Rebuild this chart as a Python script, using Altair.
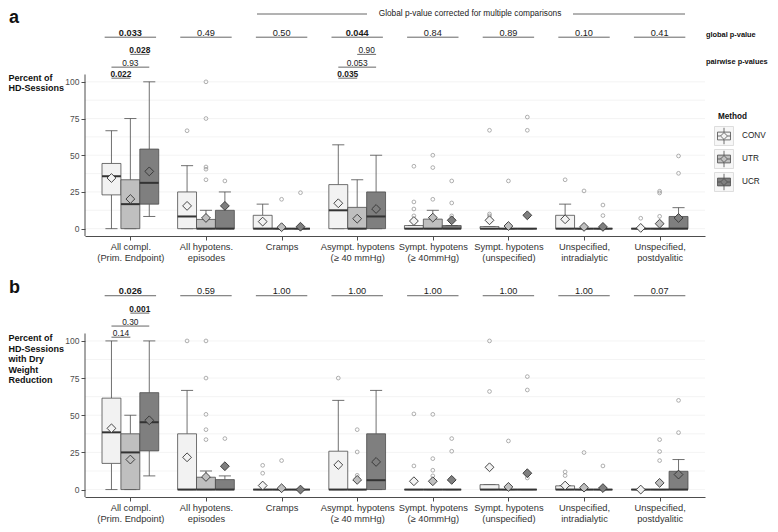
import json
import altair as alt
import pandas as pd

FONT = "Liberation Sans"
DARK = "#4d4d4d"

categories = [
    ["All compl.", "(Prim. Endpoint)"],
    ["All hypotens.", "episodes"],
    ["Cramps"],
    ["Asympt. hypotens", "(≥ 40 mmHg)"],
    ["Sympt. hypotens", "(≥ 40mmHg)"],
    ["Sympt. hypotens", "(unspecified)"],
    ["Unspecified,", "intradialytic"],
    ["Unspecified,", "postdyalitic"],
]
methods = ["CONV", "UTR", "UCR"]
method_colors = ["#f2f2f2", "#bfbfbf", "#7f7f7f"]

a_conv = dict(
    lo=[0, 0, 0, 0, 0, 0, 0, 0],
    q1=[23.0, 0, 0, 0, 0, 0, 0, 0],
    med=[35.7, 8.3, 0, 12.5, 0, 0, 0, 0],
    q3=[44.4, 25.0, 9.1, 30.0, 2.1, 1.4, 9.1, 0],
    hi=[66.7, 42.9, 16.7, 57.1, 2.1, 1.4, 16.7, 0],
    mean=[34.5, 15.5, 4.8, 17.3, 5.2, 5.7, 6.4, 0.5],
)
a_conv_out = [[], [66.7], [], [], [8.7, 13.4, 18.2, 42.5], [8.7, 10.0, 67.0], [33.3], [7.1]]
a_utr = dict(
    lo=[0, 0, 0, 0, 0, 0, 0, 0],
    q1=[0, 0, 0, 0, 0, 0, 0, 0],
    med=[16.7, 0, 0, 0, 0, 0, 0, 0],
    q3=[33.3, 6.3, 0, 14.5, 6.5, 0, 0, 0],
    hi=[75.0, 12.5, 0, 33.3, 12.5, 0, 0, 0],
    mean=[20.2, 7.3, 1.0, 6.8, 7.5, 1.8, 1.2, 3.4],
)
a_utr_out = [[], [33.3, 40.5, 42.0, 75.0, 100.0], [20.0], [], [20.0, 41.6, 50.0], [32.5], [25.7], [8.4, 24.3, 25.5]]
a_ucr = dict(
    lo=[8.3, 0, 0, 0, 0, 0, 0, 0],
    q1=[16.7, 0, 0, 0, 0, 0, 0, 0],
    med=[31.2, 0, 0, 8.3, 0, 0, 0, 0],
    q3=[54.2, 12.5, 0, 25.0, 2.1, 0, 0, 8.3],
    hi=[100.0, 25.0, 0, 50.0, 2.1, 0, 0, 14.3],
    mean=[39.0, 15.5, 1.3, 13.4, 5.7, 9.1, 1.2, 7.3],
)
a_ucr_out = [[], [32.5], [24.5], [], [8.7, 17.5, 32.5], [67.0, 76.0], [8.9, 16.1], [37.7, 49.5]]
a_global = ["0.033", "0.49", "0.50", "0.044", "0.84", "0.89", "0.10", "0.41"]
a_pair_cat = [0, 0, 0, 3, 3, 3]
a_pair_pair = ["CONV-UTR", "CONV-UCR", "UTR-UCR", "CONV-UTR", "CONV-UCR", "UTR-UCR"]
a_pair_p = ["0.022", "0.93", "0.028", "0.035", "0.053", "0.90"]

b_conv = dict(
    lo=[0, 0, 0, 0, 0, 0, 0, 0],
    q1=[17.6, 0, 0, 0, 0, 0, 0, 0],
    med=[38.5, 0, 0, 0, 0, 0, 0, 0],
    q3=[61.5, 37.5, 0, 25.8, 0, 3.3, 2.5, 0],
    hi=[100.0, 66.7, 0, 60.0, 0, 3.3, 2.5, 0],
    mean=[41.2, 21.7, 2.7, 16.6, 5.6, 15.0, 2.7, 0],
)
b_conv_out = [[], [100.0], [11.0, 16.3], [75.0], [15.9, 50.9], [66.0, 100.0], [9.4, 11.9], []]
b_utr = dict(
    lo=[0, 0, 0, 0, 0, 0, 0, 0],
    q1=[0, 0, 0, 0, 0, 0, 0, 0],
    med=[25.0, 0, 0, 0, 0, 0, 0, 0],
    q3=[37.5, 8.3, 0, 0, 0, 0, 0, 0],
    hi=[50.0, 12.5, 0, 0, 0, 0, 0, 0],
    mean=[20.2, 8.5, 0.9, 6.5, 5.6, 1.8, 1.3, 4.5],
)
b_utr_out = [[], [33.6, 40.3, 50.6, 75.0, 100.0], [19.5], [9.6, 25.3, 40.3], [9.2, 13.0, 20.8, 50.6], [32.7], [24.9], [19.5, 25.6, 33.6]]
b_ucr = dict(
    lo=[9.2, 0, 0, 0, 0, 0, 0, 0],
    q1=[26.0, 0, 0, 0, 0, 0, 0, 0],
    med=[45.3, 0, 0, 6.3, 0, 0, 0, 0],
    q3=[65.2, 6.7, 0, 37.5, 0, 0, 0, 12.3],
    hi=[100.0, 9.2, 0, 66.7, 0, 0, 0, 20.2],
    mean=[46.6, 15.7, 0, 18.6, 6.5, 11.0, 1.0, 10.1],
)
b_ucr_out = [[], [34.3], [], [], [25.8, 34.3], [7.8, 67.0, 76.0], [15.9], [38.3, 60.0]]
b_global = ["0.026", "0.59", "1.00", "1.00", "1.00", "1.00", "1.00", "0.07"]
b_pair_cat = [0, 0, 0]
b_pair_pair = ["CONV-UTR", "CONV-UCR", "UTR-UCR"]
b_pair_p = ["0.14", "0.30", "0.001"]

grid_values = [0, 12.5, 25, 37.5, 50, 62.5, 75, 87.5, 100]
OFF = {"CONV": -0.25, "UTR": 0.0, "UCR": 0.25}
HALF = 0.125
CAP = 0.08
GLOBAL_LEVEL = 130.4
PAIR_LEVEL = {"CONV-UTR": 102.5, "CONV-UCR": 110.0, "UTR-UCR": 118.7}

X = alt.Scale(domain=[-0.6, 7.6], nice=False, zero=False)
COLOR = alt.Scale(domain=methods, range=method_colors)
KEY_PATH = ("M-0.75,-0.45L0.75,-0.45L0.75,0.45L-0.75,0.45Z "
            "M0,-0.4L0.4,0L0,0.4L-0.4,0Z M0,-0.95L0,-0.45 M0,0.45L0,0.95 "
            "M-0.75,0L-0.4,0 M0.4,0L0.75,0")


def box_frames(stats, outs):
    rows, orows = [], []
    for m in methods:
        s = stats[m]
        for i in range(len(categories)):
            xc = i + OFF[m]
            rows.append(dict(method=m, xc=xc, xl=xc - HALF, xr=xc + HALF,
                             cl=xc - CAP, cr=xc + CAP, lo=s["lo"][i], q1=s["q1"][i],
                             med=s["med"][i], q3=s["q3"][i], hi=s["hi"][i], mean=s["mean"][i]))
            for v in outs[m][i]:
                orows.append(dict(method=m, xc=xc, v=v))
    return pd.DataFrame(rows), pd.DataFrame(orows)


def pval_frames(glob, pcat, ppair, pp):
    rows = []
    for i, p in enumerate(glob):
        rows.append(dict(x1=i - 0.34, x2=i + 0.34, xm=i, level=GLOBAL_LEVEL, p=p,
                         bold=float(p) < 0.05, size=9.2))
    for c, pr, p in zip(pcat, ppair, pp):
        a, b = pr.split("-")
        x1, x2 = c + OFF[a], c + OFF[b]
        rows.append(dict(x1=x1, x2=x2, xm=(x1 + x2) / 2, level=PAIR_LEVEL[pr], p=p,
                         bold=float(p) < 0.05, size=8.4))
    return pd.DataFrame(rows)


def panel(stats, outs, glob, pcat, ppair, pp, ytop, height, ytitle, title_y,
          letter, letter_y, extras):
    Y = alt.Scale(domain=[-5, ytop], nice=False, zero=False)
    df, odf = box_frames(stats, outs)
    pdf = pval_frames(glob, pcat, ppair, pp)
    xaxis = alt.Axis(values=list(range(len(categories))),
                     labelExpr=json.dumps(categories, ensure_ascii=False) + "[datum.value]",
                     title=None, labelFont=FONT, labelFontSize=9.3, labelLineHeight=11.3,
                     labelColor="#333333", labelPadding=2, tickSize=4, tickColor=DARK,
                     domainColor=DARK, domainWidth=1, grid=False, labelFlush=False,
                     labelOverlap=False)
    yaxis = alt.Axis(values=[0, 25, 50, 75, 100], title=ytitle, titleAngle=0,
                     titleAlign="left", titleBaseline="top", titleX=-77, titleY=title_y,
                     titleFont=FONT, titleFontSize=9, titleFontWeight="bold",
                     titleColor="#111111", titleLineHeight=10.5, labelFont=FONT,
                     labelFontSize=8.5, labelColor="#4d4d4d", labelPadding=2, tickSize=4,
                     tickColor=DARK, domain=False, grid=False)
    xs = lambda f: alt.X(f, type="quantitative", scale=X, axis=xaxis)
    ys = lambda f: alt.Y(f, type="quantitative", scale=Y, axis=yaxis)
    fill = alt.Fill("method:N", scale=COLOR, legend=None)

    grid = alt.Chart(pd.DataFrame({"g": grid_values})).mark_rule(
        color="#efefef", strokeWidth=0.7).encode(
        x=alt.X(datum=-0.6, scale=X, axis=xaxis), x2=alt.datum(7.6), y=ys("g"))
    yline = alt.Chart(pd.DataFrame({"a": [-5], "b": [105]})).mark_rule(
        color=DARK, strokeWidth=1).encode(
        x=alt.X(datum=-0.6, scale=X, axis=xaxis), y=ys("a"), y2="b:Q")
    base = alt.Chart(df)
    w_lo = base.mark_rule(color=DARK, strokeWidth=0.8).encode(x=xs("xc"), y=ys("lo"), y2="q1:Q")
    w_hi = base.mark_rule(color=DARK, strokeWidth=0.8).encode(x=xs("xc"), y=ys("q3"), y2="hi:Q")
    c_lo = base.mark_rule(color=DARK, strokeWidth=0.8).encode(x=xs("cl"), x2="cr:Q", y=ys("lo"))
    c_hi = base.mark_rule(color=DARK, strokeWidth=0.8).encode(x=xs("cl"), x2="cr:Q", y=ys("hi"))
    boxes = base.mark_bar(stroke=DARK, strokeWidth=0.8, opacity=1).encode(
        x=xs("xl"), x2="xr:Q", y=ys("q1"), y2="q3:Q", fill=fill)
    med = base.mark_rule(color="#333333", strokeWidth=2).encode(x=xs("xl"), x2="xr:Q", y=ys("med"))
    outl = alt.Chart(odf).mark_point(shape="circle", size=14, filled=False, color="#9a9a9a",
                                     strokeWidth=0.8, opacity=1).encode(x=xs("xc"), y=ys("v"))
    mean = base.mark_point(shape="diamond", size=78, filled=True, stroke="#333333",
                           strokeWidth=0.9, opacity=1).encode(
        x=xs("xc"), y=ys("mean"), fill=fill)
    pbase = alt.Chart(pdf)
    uline = pbase.mark_rule(color="#555555", strokeWidth=0.9).encode(
        x=xs("x1"), x2="x2:Q", y=ys("level"))
    layers = [grid, yline, w_lo, w_hi, c_lo, c_hi, boxes, med, outl, mean, uline]
    for bold in (False, True):
        for sz in (9.2, 8.4):
            sub = pdf[(pdf["bold"] == bold) & (pdf["size"] == sz)]
            if len(sub):
                layers.append(alt.Chart(sub).mark_text(
                    font=FONT, fontSize=sz, fontWeight="bold" if bold else "normal",
                    baseline="alphabetic", dy=-1.5, color="#1a1a1a").encode(
                    x=xs("xm"), y=ys("level"), text="p:N"))
    layers.append(alt.Chart(pd.DataFrame({"t": [letter]})).mark_text(
        font=FONT, fontSize=18, fontWeight="bold", align="left", baseline="alphabetic",
        color="#111111").encode(x=alt.value(-76), y=alt.value(letter_y), text="t:N"))
    layers += extras
    return alt.layer(*layers).properties(width=620, height=height)


def txt(t, x, y, size, weight="normal", align="left", baseline="middle", color="#111111"):
    return alt.Chart(pd.DataFrame({"t": [t]})).mark_text(
        font=FONT, fontSize=size, fontWeight=weight, align=align, baseline=baseline,
        color=color).encode(x=alt.value(x), y=alt.value(y), text="t:N")


extras_a = [
    txt("Global p-value corrected for multiple comparisons", 385, 4.5, 8.3,
        align="center", color="#222222"),
    alt.Chart(pd.DataFrame({"t": ["l"]})).mark_rule(color="#555555", strokeWidth=0.9).encode(
        x=alt.value(172), x2=alt.value(282), y=alt.value(5)),
    alt.Chart(pd.DataFrame({"t": ["r"]})).mark_rule(color="#555555", strokeWidth=0.9).encode(
        x=alt.value(488), x2=alt.value(600), y=alt.value(5)),
    txt("global p-value", 621, 26, 7.4, weight="bold"),
    txt("pairwise p-values", 621, 53, 7.4, weight="bold"),
    txt("Method", 633, 108, 8.2, weight="bold"),
]
# legend keys (one per method)
key_y = [127, 150, 173]
for m, ky in zip(methods, key_y):
    kd = pd.DataFrame({"method": [m]})
    extras_a.append(alt.Chart(kd).mark_point(
        shape="square", size=360, filled=True, color="#f7f7f7", stroke="#d6d6d6",
        strokeWidth=0.8, opacity=1).encode(x=alt.value(639), y=alt.value(ky)))
    extras_a.append(alt.Chart(kd).mark_point(
        shape=KEY_PATH, size=300, filled=True, stroke=DARK, strokeWidth=0.8,
        opacity=1).encode(x=alt.value(639), y=alt.value(ky),
                          fill=alt.Fill("method:N", scale=COLOR, legend=None)))
    extras_a.append(txt(m, 657, ky, 8.2, color="#222222"))

top = panel({"CONV": a_conv, "UTR": a_utr, "UCR": a_ucr},
            {"CONV": a_conv_out, "UTR": a_utr_out, "UCR": a_ucr_out},
            a_global, a_pair_cat, a_pair_pair, a_pair_p,
            ytop=149.6, height=227, ytitle=["Percent of", "HD-Sessions"], title_y=64,
            letter="a", letter_y=14, extras=extras_a)
bottom = panel({"CONV": b_conv, "UTR": b_utr, "UCR": b_ucr},
               {"CONV": b_conv_out, "UTR": b_utr_out, "UCR": b_ucr_out},
               b_global, b_pair_cat, b_pair_pair, b_pair_p,
               ytop=143, height=220,
               ytitle=["Percent of", "HD-Sessions", "with Dry", "Weight", "Reduction"],
               title_y=56.5, letter="b", letter_y=15.6, extras=[])

chart = alt.vconcat(top, bottom, spacing=14).properties(
    padding=0, background="white").configure_view(stroke=None)
chart.save("out.html", embed_options={"renderer": "svg", "actions": False})
